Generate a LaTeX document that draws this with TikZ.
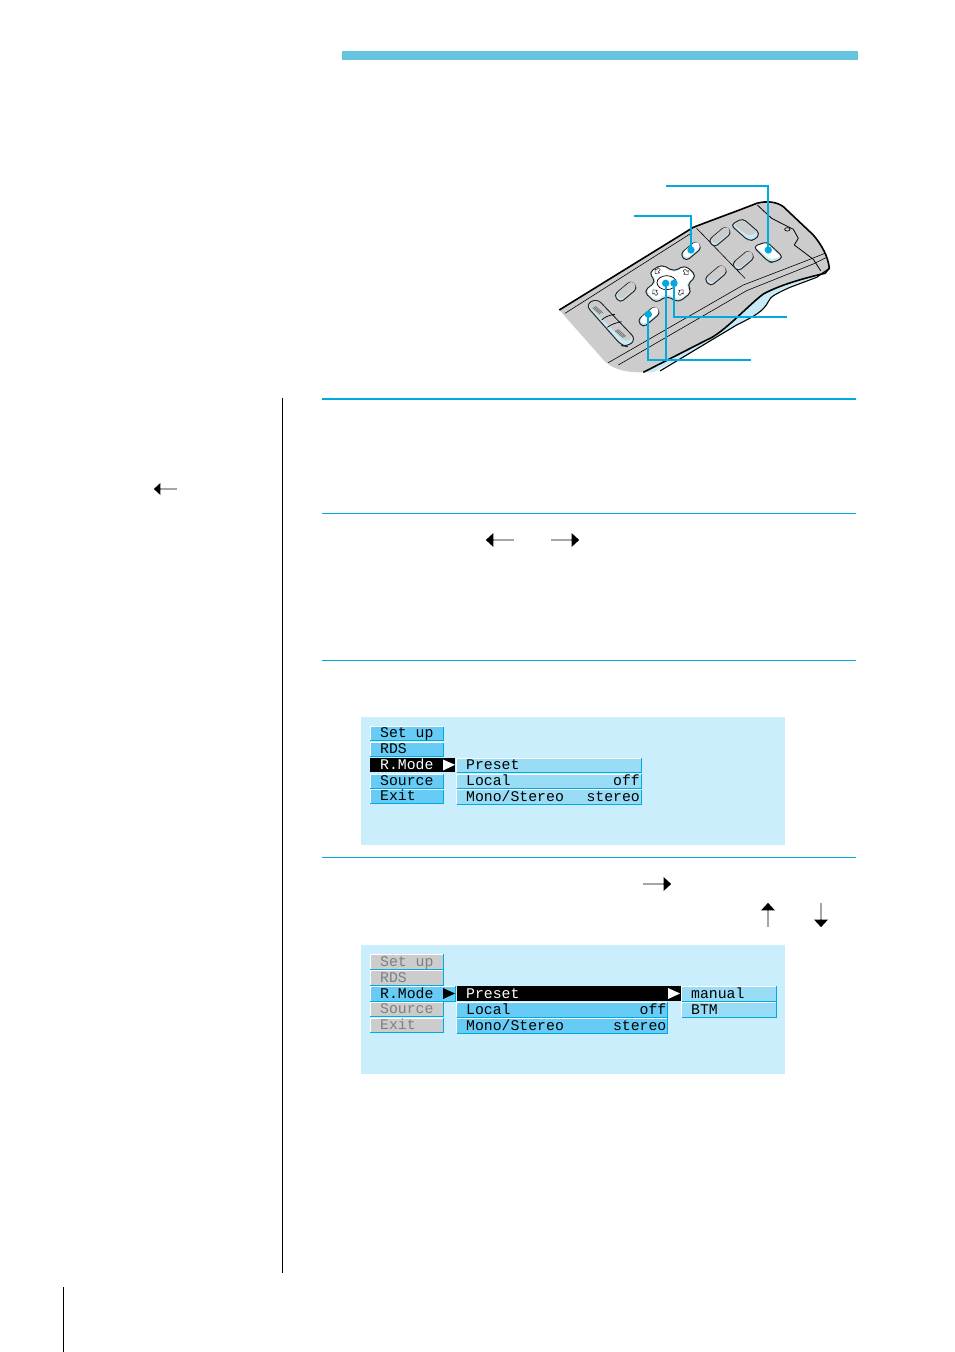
\documentclass[tikz,border=0pt]{standalone}
\usepackage{fontspec}
\newfontfamily\menufont{Liberation Mono}
\usepackage{xcolor}
\usetikzlibrary{shapes.arrows}
\definecolor{RuleBlue}{HTML}{00A9E0}
\definecolor{BarBlue}{HTML}{66C5DE}
\definecolor{PanelBlue}{HTML}{CAEEFB}
\definecolor{MenuBlue}{HTML}{66CCF5}
\definecolor{SubBlue}{HTML}{99DCF6}
\definecolor{BodyGray}{HTML}{CCCCCC}
\definecolor{KeyBlue}{HTML}{C6EAF6}
\definecolor{DimGray}{HTML}{7F7F7F}
\tikzset{
    Dot/.style = {fill=RuleBlue,circle,inner sep=2.6pt},
    Leader/.style = {draw=RuleBlue,line width=2pt},
    ThinRule/.style = {draw=RuleBlue,line width=.8pt},
    KeyLine/.style = {draw=black!85,line width=1pt,line join=round},
    MenuText/.style = {anchor=base west,inner sep=0pt,font=\menufont\fontsize{14.8}{15}\selectfont},
    MenuRight/.style = {MenuText,anchor=base east},
    Block/.style = {single arrow,fill=black,inner sep=0pt,minimum height=28pt,minimum width=14pt,
        single arrow head extend=4pt,single arrow tip angle=85}
}
% x0, y0, x1, y1, fill
\newcommand{\MenuBar}[5]{
    \fill[#5] (#1,#2) rectangle (#3,#4);
    \draw[white,line width=.8pt] (#1,#4) -- (#1,#2) -- (#3,#2);
    \draw[RuleBlue,line width=1pt] (#1,#4) -- (#3,#4) -- (#3,#2);
}
% x, y, length, width, colour of the key
\newcommand{\RemoteKey}[5]{
    \draw[KeyLine,fill=KeyBlue,shift={(#1,#2)},rotate=40,rounded corners=4pt] (-#3/2,-#4/2) rectangle (#3/2,#4/2);
    \fill[#5,shift={(#1+2,#2-4)},rotate=40,rounded corners=3.5pt] (-#3/2+3,-#4/2+3) rectangle (#3/2-3,#4/2-3);
}
\begin{document}
\begin{tikzpicture}[x=1pt,y=-1pt]
    \useasboundingbox (0,0) rectangle (954,1352);

    % page furniture
    \fill[BarBlue] (342,51) rectangle (858,60);
    \draw[black,line width=.8pt] (282.5,398) -- (282.5,1273);
    \draw[black,line width=.8pt] (63.5,1287) -- (63.5,1352);
    \draw[RuleBlue,line width=1.6pt] (322,399) -- (856,399);
    \foreach \Y in {513.5,660.5,857.5}
        {\draw[ThinRule] (322,\Y) -- (856,\Y);}

    % remote, in 3x crop units
    \begin{scope}[shift={(550,170)},x=.3333pt,y=-.3333pt]
        \fill[KeyBlue] (825,305) -- (838,295) .. controls (800,325) and (720,345) .. (675,370)
            .. controls (650,395) and (650,410) .. (630,425)
            .. controls (570,455) and (450,535) .. (310,607) -- (280,607) -- (500,480) -- (640,370) -- cycle;
        \fill[BodyGray] (28,420) -- (430,172) .. controls (500,145) and (570,120) .. (620,100)
            .. controls (650,92) and (680,95) .. (700,110) -- (790,195)
            .. controls (815,225) and (835,260) .. (838,295) -- (825,310)
            .. controls (760,325) and (690,345) .. (640,372)
            .. controls (590,410) and (520,490) .. (470,510) -- (280,607)
            .. controls (240,607) and (200,605) .. (165,575) -- cycle;
        \draw[black,line width=1.6pt,line join=round] (28,420) -- (430,172) .. controls (500,145) and (570,120) .. (620,100)
            .. controls (650,92) and (680,95) .. (700,110) -- (790,195)
            .. controls (815,225) and (835,260) .. (838,295) -- (825,310)
            .. controls (760,325) and (690,345) .. (640,372)
            .. controls (590,410) and (520,490) .. (470,510) -- (280,607);
        \draw[black,line width=1.1pt] (330,603) -- (560,465) .. controls (610,440) and (640,425) .. (655,395)
            .. controls (660,380) and (680,370) .. (720,352) -- (800,322) -- (838,295);
        % panel lines
        \draw[black,line width=.6pt] (45,430) -- (420,192);
        \draw[black,line width=.6pt] (440,175) -- (585,325);
        \draw[black,line width=.6pt] (175,578) -- (580,345) -- (780,268) -- (825,250);
        \draw[black,line width=.6pt] (205,585) -- (590,362) -- (790,282) -- (830,262);
        \draw[black,line width=.8pt,line join=round] (622,105) -- (665,145) -- (730,178) -- (745,205) -- (733,225)
            -- (790,268) -- (812,302);
        \draw[black,line width=.7pt,fill=BodyGray!70] (712,178) ellipse [x radius=8,y radius=5];
        % keys
        \RemoteKey{423}{243}{62}{28}{white}
        \RemoteKey{510}{200}{68}{28}{BodyGray}
        \RemoteKey{498}{316}{68}{30}{BodyGray}
        \RemoteKey{580}{272}{66}{30}{BodyGray}
        \RemoteKey{227}{365}{68}{30}{BodyGray}
        \RemoteKey{297}{440}{68}{28}{white}
        \draw[KeyLine,fill=KeyBlue,rounded corners=4pt] (542,165) -- (578,145) -- (630,190) -- (615,210) -- (595,212) -- cycle;
        \fill[BodyGray,rounded corners=3pt] (550,165) -- (578,150) -- (622,188) -- (595,197) -- cycle;
        \draw[KeyLine,fill=KeyBlue,rounded corners=4pt] (610,230) -- (650,215) -- (700,262) -- (670,278) -- (655,275) -- cycle;
        \fill[white,rounded corners=2pt] (616,230) -- (650,219) -- (692,260) -- (660,268) -- cycle;
        % zoom rocker
        \draw[KeyLine,fill=KeyBlue,rounded corners=6pt] (107,405) -- (140,385) -- (258,508) -- (232,530) -- (215,527) -- cycle;
        \fill[BodyGray,rounded corners=4pt] (113,405) -- (140,390) -- (250,505) -- (225,515) -- cycle;
        \draw[black,line width=.7pt] (155,450) .. controls (165,440) and (180,435) .. (195,433);
        \draw[black,line width=.7pt] (172,472) .. controls (185,462) and (200,458) .. (215,455);
        \foreach \S in {0,4,8}
            {\draw[black!65,line width=.5pt] (128+\S,413-\S/2) -- (150+\S,432-\S/2);
             \draw[black!65,line width=.5pt] (195+\S,482-\S/2) -- (220+\S,503-\S/2);}
        % cross pad
        \draw[KeyLine,fill=KeyBlue,rounded corners=5pt] (296,308) -- (335,283) -- (372,305) -- (405,285) -- (440,318)
            -- (410,345) -- (427,365) -- (385,398) -- (350,377) -- (318,400) -- (281,364) -- (318,335) -- cycle;
        \fill[white,rounded corners=4pt] (300,308) -- (335,287) -- (372,309) -- (405,289) -- (434,318)
            -- (406,345) -- (422,364) -- (385,390) -- (350,370) -- (318,392) -- (287,362) -- (322,335) -- cycle;
        \draw[black,line width=.7pt,fill=white] (350,338) ellipse [x radius=29,y radius=21];
        \foreach \X/\Y/\R in {322/303/-130,408/307/-50,315/367/130,393/367/50}
            {\draw[black!80,line width=.5pt,shift={(\X,\Y)},rotate=\R,line join=round]
                (10,0) -- (0,-9) -- (0,-4) -- (-9,-4) -- (-9,4) -- (0,4) -- (0,9) -- cycle;}
        % leaders
        \node[Dot] (menuDot) at (655,240) {};
        \node[Dot] (bandDot) at (423,240) {};
        \node[Dot] (enterDot) at (372,340) {};
        \node[Dot] (crossDot) at (347,340) {};
        \node[Dot] (offDot) at (295,433) {};
        \coordinate (menuEnd) at (348,48);
        \coordinate (bandEnd) at (252,137);
        \coordinate (enterEnd) at (710,440);
        \coordinate (offEnd) at (603,571);
        \draw[Leader] (menuDot.center) |- (menuEnd);
        \draw[Leader] (bandDot.center) |- (bandEnd);
        \draw[Leader] (enterDot.center) |- (enterEnd);
        \draw[Leader] (offDot.center) |- (offEnd);
        \draw[Leader] (crossDot.center) |- (offEnd);
    \end{scope}

    % block arrows
    \node[Block,minimum height=23pt,minimum width=12pt,single arrow head extend=3.5pt,shape border rotate=180] (marginArrow) at (165.5,489) {};
    \node[Block,shape border rotate=180] (prevArrow) at (500,540) {};
    \node[Block] (nextArrow) at (565,540) {};
    \node[Block] (stepArrow) at (657,884) {};
    \node[Block,minimum height=24pt,shape border rotate=90] (upArrow) at (768,915) {};
    \node[Block,minimum height=24pt,shape border rotate=270] (downArrow) at (821,915) {};

    % first menu
    \fill[PanelBlue] (361,717) rectangle (785,845);
    \foreach \A/\B in {726.7/740,742.7/756.6,774/788,789.7/803.7}
        {\MenuBar{370}{\A}{443}{\B}{MenuBlue}}
    \foreach \A/\B in {758/772,774/788,789.7/804}
        {\MenuBar{456.7}{\A}{641}{\B}{SubBlue}}
    \fill[black] (370,758) rectangle (455,772);
    \fill[white] (443,759.5) -- (455,764.8) -- (443,770.5) -- cycle;
    \node[MenuText] (setupA) at (380,737) {Set up};
    \node[MenuText] (rdsA) at (380,753.3) {RDS};
    \node[MenuText,text=white] (rmodeA) at (380,769.3) {R.Mode};
    \node[MenuText] (sourceA) at (380,785) {Source};
    \node[MenuText] (exitA) at (380,800.3) {Exit};
    \node[MenuText] (presetA) at (466,769.3) {Preset};
    \node[MenuText] (localA) at (466,785) {Local};
    \node[MenuText] (monoA) at (466,801) {Mono/Stereo};
    \node[MenuRight] (offA) at (640,785) {off};
    \node[MenuRight] (stereoA) at (640,801) {stereo};

    % second menu
    \fill[PanelBlue] (361,945) rectangle (785,1074);
    \foreach \A/\B in {954.3/969,970/985,1002/1016,1018/1032}
        {\MenuBar{370}{\A}{443}{\B}{BodyGray}}
    \MenuBar{370}{986}{455.5}{1001}{MenuBlue}
    \foreach \A/\B in {1002/1017,1018/1033}
        {\MenuBar{456.7}{\A}{667.5}{\B}{MenuBlue}}
    \foreach \A/\B in {986/1001,1002/1017}
        {\MenuBar{681.7}{\A}{776.7}{\B}{SubBlue}}
    \fill[black] (456.7,986) rectangle (680.7,1001);
    \fill[black] (443,988) -- (455,993.5) -- (443,999) -- cycle;
    \fill[white] (668,988) -- (680,993.5) -- (668,999) -- cycle;
    \node[MenuText,text=DimGray] (setupB) at (380,966.3) {Set up};
    \node[MenuText,text=DimGray] (rdsB) at (380,982.3) {RDS};
    \node[MenuText] (rmodeB) at (380,998.3) {R.Mode};
    \node[MenuText,text=DimGray] (sourceB) at (380,1013.7) {Source};
    \node[MenuText,text=DimGray] (exitB) at (380,1029.7) {Exit};
    \node[MenuText,text=white] (presetB) at (466,998.3) {Preset};
    \node[MenuText] (localB) at (466,1014.3) {Local};
    \node[MenuText] (monoB) at (466,1030.3) {Mono/Stereo};
    \node[MenuRight] (offB) at (666.5,1014.3) {off};
    \node[MenuRight] (stereoB) at (666.5,1030.3) {stereo};
    \node[MenuText] (manualB) at (691,998.3) {manual};
    \node[MenuText] (btmB) at (691,1014.3) {BTM};
\end{tikzpicture}
\end{document}
